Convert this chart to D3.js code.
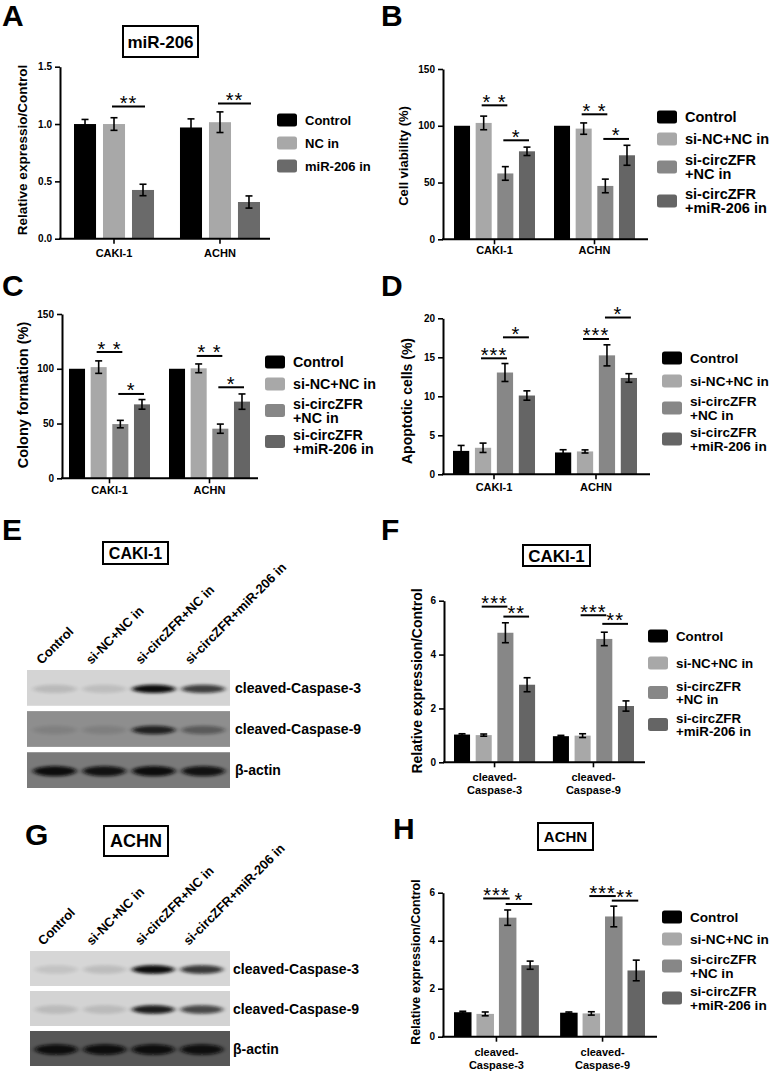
<!DOCTYPE html>
<html><head><meta charset="utf-8">
<script src="https://cdn.jsdelivr.net/npm/d3@7"></script>
<style>
body{margin:0;background:#fff}
svg{display:block;font-family:'Liberation Sans',Arial,Helvetica,sans-serif}
</style>
</head><body>
<svg id="fig" width="771" height="1072"></svg>
<script>
// ---------------- DATA ----------------
const cells = ["CAKI-1", "ACHN"];
const proteins = ["cleaved-\nCaspase-3", "cleaved-\nCaspase-9"];
const seriesA = ["Control", "NC in", "miR-206 in"];
const seriesB = ["Control", "si-NC+NC in", "si-circZFR\n+NC in", "si-circZFR\n+miR-206 in"];

const valuesA = [[1.00, 1.00, 0.425], [0.97, 1.016, 0.32]];
const errorsA = [[0.04, 0.055, 0.05], [0.075, 0.09, 0.053]];
const sigA = [[0, 1, 2, 1.152, "**"], [1, 1, 2, 1.18, "**"]];

const valuesB = [[100, 102.5, 58, 77.5], [100, 97.5, 47, 74]];
const errorsB = [[0, 6, 6, 3.7], [0, 5, 6, 8.8]];
const sigB = [[0, 1, 2, 118, "* *"], [0, 2, 3, 87.2, "*"], [1, 1, 2, 110.1, "* *"], [1, 2, 3, 88.4, "*"]];

const valuesC = [[100, 101.5, 49.5, 67.5], [100, 100.4, 45.3, 70]];
const errorsC = [[0, 5.7, 3.4, 4.4], [0, 4, 4.2, 7]];
const sigC = [[0, 1, 2, 115.3, "* *"], [0, 2, 3, 77, "*"], [1, 1, 2, 111.7, "* *"], [1, 2, 3, 83.1, "*"]];

const valuesD = [[3.0, 3.4, 13.05, 10.1], [2.8, 2.93, 15.25, 12.35]];
const errorsD = [[0.7, 0.6, 1.15, 0.6], [0.35, 0.2, 1.35, 0.55]];
const sigD = [[0, 1, 2, 14.87, "***"], [0, 2, 3, 17.56, "*"], [1, 1, 2, 17.35, "***"], [1, 2, 3, 20.1, "*"]];

const valuesF = [[1.03, 1.01, 4.81, 2.88], [0.97, 0.99, 4.58, 2.09]];
const errorsF = [[0.03, 0.04, 0.37, 0.26], [0.03, 0.07, 0.25, 0.19]];
const sigF = [[0, 1, 2, 5.78, "***"], [0, 2, 3, 5.41, "**"], [1, 1, 2, 5.46, "***"], [1, 2, 3, 5.14, "**"]];

const valuesH = [[1.02, 0.95, 4.96, 2.98], [1.00, 0.97, 5.01, 2.76]];
const errorsH = [[0.04, 0.08, 0.32, 0.17], [0.03, 0.07, 0.43, 0.43]];
const sigH = [[0, 1, 2, 5.76, "***"], [0, 2, 3, 5.53, "*"], [1, 1, 2, 5.86, "***"], [1, 2, 3, 5.67, "**"]];

const ticks15 = [0, 0.5, 1.0, 1.5];
const ticks150 = [0, 50, 100, 150];
const ticks20 = [0, 5, 10, 15, 20];
const ticks6 = [0, 2, 4, 6];

// western blot (band intensity 0..1 per lane)
const blotLanes = ["Control", "si-NC+NC in", "si-circZFR+NC in", "si-circZFR+miR-206 in"];
const blotProteins = ["cleaved-Caspase-3", "cleaved-Caspase-9", "β-actin"];
const bandsE = [[0.13, 0.11, 1.0, 0.75], [0.1, 0.11, 0.85, 0.4], [1.0, 0.95, 1.0, 0.95]];
const bandsG = [[0.09, 0.12, 1.0, 0.78], [0.12, 0.12, 0.92, 0.7], [1.0, 1.0, 1.0, 0.98]];

// ---------------- STYLE ----------------
const colors3 = ["#000000", "#a8a8a8", "#6a6a6a"];
const colors4 = ["#000000", "#a8a8a8", "#878787", "#656565"];
const stripBgE = ["#d4d4d4", "#8e8e8e", "#7a7a7a"];
const stripBgG = ["#d6d6d6", "#d3d3d3", "#575757"];

const svg = d3.select("#fig");
const defs = svg.append("defs");
defs.append("filter").attr("id", "blur").attr("x", "-30%").attr("y", "-100%").attr("width", "160%").attr("height", "300%")
  .append("feGaussianBlur").attr("stdDeviation", "2.6 1.5");

function panelLetter(t, x, y) {
  svg.append("text").attr("x", x).attr("y", y).attr("font-size", 30).attr("font-weight", "bold").text(t);
}
function titleBox(b) {
  svg.append("rect").attr("x", b.x).attr("y", b.y).attr("width", b.w).attr("height", b.h)
    .attr("fill", "#fff").attr("stroke", "#000").attr("stroke-width", 2);
  svg.append("text").attr("x", b.x + b.w / 2).attr("y", b.y + b.h / 2 + b.size * 0.36)
    .attr("text-anchor", "middle").attr("font-size", b.size).attr("font-weight", "bold").text(b.text);
}

function barPanel(c) {
  const g = svg.append("g");
  const y = d3.scaleLinear().domain(c.yDomain).range(c.yRange);
  const gx = d3.scaleBand().domain(c.groups).range(c.groupRange).paddingInner(c.groupPad).paddingOuter(0);
  const ix = d3.scaleBand().domain(d3.range(c.series.length)).range([0, gx.bandwidth()]).paddingInner(c.innerPad).paddingOuter(0);
  const cx = (gi, si) => gx(c.groups[gi]) + ix(si) + ix.bandwidth() / 2;

  // bars
  c.values.forEach((row, gi) => {
    row.forEach((v, si) => {
      g.append("rect").attr("x", gx(c.groups[gi]) + ix(si)).attr("y", y(v))
        .attr("width", ix.bandwidth()).attr("height", y(0) - y(v)).attr("fill", c.colors[si]);
    });
  });
  // error bars
  c.values.forEach((row, gi) => {
    row.forEach((v, si) => {
      const e = c.errors[gi][si];
      if (!e) return;
      const x = cx(gi, si);
      const eb = g.append("g").attr("stroke", "#000").attr("stroke-width", 1.6);
      eb.append("line").attr("x1", x).attr("x2", x).attr("y1", y(v - e)).attr("y2", y(v + e));
      [v - e, v + e].forEach(t => eb.append("line").attr("x1", x - 3.5).attr("x2", x + 3.5).attr("y1", y(t)).attr("y2", y(t)));
    });
  });
  // axes
  const ya = g.append("g").attr("transform", `translate(${c.xAxis[0]},0)`)
    .call(d3.axisLeft(y).tickValues(c.yTicks).tickSize(5).tickSizeOuter(0).tickPadding(3).tickFormat(d3.format(c.yFormat)));
  ya.select(".domain").attr("stroke-width", 2);
  ya.selectAll(".tick line").attr("stroke-width", 1.6);
  ya.selectAll(".tick text").attr("font-size", 10).attr("font-weight", "bold").attr("font-family", null).attr("fill", "#000");

  const xa = g.append("g").attr("transform", `translate(0,${y(0)})`)
    .call(d3.axisBottom(gx).tickSize(5).tickSizeOuter(0).tickPadding(3));
  xa.select(".domain").remove();
  xa.selectAll(".tick line").attr("stroke-width", 1.6);
  xa.selectAll(".tick text").remove();
  g.append("line").attr("x1", c.xAxis[0] - 1).attr("x2", c.xAxis[1]).attr("y1", y(0)).attr("y2", y(0))
    .attr("stroke", "#000").attr("stroke-width", 2);
  c.groups.forEach(name => {
    const lines = name.split("\n");
    const t = g.append("text").attr("text-anchor", "middle").attr("font-size", 11).attr("font-weight", "bold");
    lines.forEach((ln, i) => t.append("tspan").attr("x", gx(name) + gx.bandwidth() / 2).attr("y", c.xLabelY + i * 12.5).text(ln));
  });
  // y title
  g.append("text").attr("transform", `translate(${c.titleX},${c.titleY}) rotate(-90)`)
    .attr("text-anchor", "middle").attr("dy", "0.36em").attr("font-size", c.titleSize).attr("font-weight", "bold").text(c.title);

  // significance
  c.sig.forEach(([gi, a, b, lvl, lab]) => {
    const x1 = cx(gi, a) - 2, x2 = cx(gi, b) + 2, yy = y(lvl);
    g.append("line").attr("x1", x1).attr("x2", x2).attr("y1", yy).attr("y2", yy).attr("stroke", "#000").attr("stroke-width", 2);
    g.append("text").attr("x", (x1 + x2) / 2).attr("y", yy + 3.5).attr("text-anchor", "middle")
      .attr("font-size", 20).attr("letter-spacing", 1).text(lab);
  });

  // legend
  const L = c.legend;
  let yc = L.y;
  c.series.forEach((s, i) => {
    const lines = s.split("\n");
    const h = lines.length > 1 ? L.double : L.single;
    if (i > 0) {
      const hp = c.series[i - 1].split("\n").length > 1 ? L.double : L.single;
      yc += hp / 2 + h / 2;
    }
    g.append("rect").attr("x", L.x).attr("y", yc - 6.5).attr("width", 20).attr("height", 13).attr("rx", 2.5)
      .attr("fill", c.colors[i]);
    const t = g.append("text").attr("font-size", L.size).attr("font-weight", "bold");
    const lh = L.size * 0.98;
    lines.forEach((ln, k) => {
      t.append("tspan").attr("x", L.x + 28)
        .attr("y", yc + L.size * 0.36 + (k - (lines.length - 1) / 2) * lh).text(ln);
    });
  });
}

function blot(c) {
  const g = svg.append("g");
  const lx = d3.scaleBand().domain(d3.range(c.lanes.length)).range(c.laneRange).paddingInner(0).paddingOuter(0);
  const sy = d3.scaleBand().domain(d3.range(c.proteins.length)).range(c.stripRange).paddingInner(c.stripPad).paddingOuter(0);
  c.proteins.forEach((p, pi) => {
    g.append("rect").attr("x", c.stripX[0]).attr("y", sy(pi)).attr("width", c.stripX[1] - c.stripX[0])
      .attr("height", sy.bandwidth()).attr("fill", c.bg[pi]);
    c.bands[pi].forEach((v, li) => {
      g.append("ellipse").attr("cx", lx(li) + lx.bandwidth() / 2).attr("cy", sy(pi) + sy.bandwidth() / 2 + 1)
        .attr("rx", lx.bandwidth() * 0.44).attr("ry", pi === 2 ? 5.2 : 4.2)
        .attr("fill", "#0a0a0a").attr("opacity", v).attr("filter", "url(#blur)");
    });
    g.append("text").attr("x", c.labelX).attr("y", sy(pi) + sy.bandwidth() / 2 + 5)
      .attr("font-size", 14).attr("font-weight", "bold").text(p);
  });
  c.lanes.forEach((ln, li) => {
    g.append("text").attr("transform", `translate(${lx(li) + lx.bandwidth() / 2 - 13},${c.stripRange[0] - 5}) rotate(-45)`)
      .attr("font-size", 13).attr("font-weight", "bold").text(ln);
  });
}

// ---------------- PANELS ----------------
panelLetter("A", 2, 26);
titleBox({x: 123, y: 26, w: 75, h: 31, text: "miR-206", size: 17});
barPanel({groups: cells, series: seriesA, colors: colors3, values: valuesA, errors: errorsA, sig: sigA,
  yDomain: [0, 1.5], yTicks: ticks15, yFormat: ".1f", yRange: [238.7, 66.7], xAxis: [60, 270],
  groupRange: [74, 260], groupPad: 0.245, innerPad: 0.24, title: "Relative expressio/Control",
  titleX: 22, titleY: 150, titleSize: 13.5, xLabelY: 257,
  legend: {x: 277, y: 120, single: 23, double: 34, size: 13}});

panelLetter("B", 381, 26);
barPanel({groups: cells, series: seriesB, colors: colors4, values: valuesB, errors: errorsB, sig: sigB,
  yDomain: [0, 150], yTicks: ticks150, yFormat: "d", yRange: [239.3, 69], xAxis: [443, 648],
  groupRange: [454, 635], groupPad: 0.19, innerPad: 0.26, title: "Cell viability (%)",
  titleX: 403, titleY: 156, titleSize: 13, xLabelY: 254,
  legend: {x: 657, y: 117, single: 22, double: 34, size: 14.5}});

panelLetter("C", 2, 296);
barPanel({groups: cells, series: seriesB, colors: colors4, values: valuesC, errors: errorsC, sig: sigC,
  yDomain: [0, 150], yTicks: ticks150, yFormat: "d", yRange: [478.3, 314], xAxis: [62, 258],
  groupRange: [69, 250], groupPad: 0.19, innerPad: 0.26, title: "Colony formation (%)",
  titleX: 23, titleY: 395, titleSize: 14.5, xLabelY: 494,
  legend: {x: 265, y: 362, single: 22, double: 31, size: 14.3}});

panelLetter("D", 381, 296);
barPanel({groups: cells, series: seriesB, colors: colors4, values: valuesD, errors: errorsD, sig: sigD,
  yDomain: [0, 20], yTicks: ticks20, yFormat: "d", yRange: [474.3, 318.3], xAxis: [443, 650],
  groupRange: [453, 637], groupPad: 0.196, innerPad: 0.26, title: "Apoptotic cells (%)",
  titleX: 407, titleY: 401, titleSize: 14, xLabelY: 491,
  legend: {x: 662, y: 358, single: 23, double: 31, size: 13.6}});

panelLetter("E", 2, 540);
titleBox({x: 103, y: 542, w: 65, h: 22, text: "CAKI-1", size: 16});
blot({lanes: blotLanes, proteins: blotProteins, bands: bandsE, bg: stripBgE,
  laneRange: [30, 228], stripX: [27, 230], stripRange: [670, 788], stripPad: 0.13, labelX: 235});

panelLetter("F", 381, 540);
titleBox({x: 523, y: 545, w: 67, h: 21, text: "CAKI-1", size: 17});
barPanel({groups: proteins, series: seriesB, colors: colors4, values: valuesF, errors: errorsF, sig: sigF,
  yDomain: [0, 6], yTicks: ticks6, yFormat: "d", yRange: [762.3, 600.7], xAxis: [444, 645],
  groupRange: [454, 634], groupPad: 0.18, innerPad: 0.26, title: "Relative expression/Control",
  titleX: 417, titleY: 681, titleSize: 14, xLabelY: 781,
  legend: {x: 648, y: 636, single: 27, double: 32, size: 13.3}});

panelLetter("G", 25, 845);
titleBox({x: 104, y: 826, w: 64, h: 30, text: "ACHN", size: 18});
blot({lanes: blotLanes, proteins: blotProteins, bands: bandsG, bg: stripBgG,
  laneRange: [32, 226], stripX: [30, 230], stripRange: [951, 1066], stripPad: 0.125, labelX: 233});

panelLetter("H", 393, 839);
titleBox({x: 538, y: 823, w: 55, h: 27, text: "ACHN", size: 15});
barPanel({groups: proteins, series: seriesB, colors: colors4, values: valuesH, errors: errorsH, sig: sigH,
  yDomain: [0, 6], yTicks: ticks6, yFormat: "d", yRange: [1036.7, 892.7], xAxis: [443, 657],
  groupRange: [454, 645], groupPad: 0.2, innerPad: 0.22, title: "Relative expression/Control",
  titleX: 415, titleY: 962, titleSize: 12.5, xLabelY: 1056,
  legend: {x: 662, y: 917, single: 22, double: 32, size: 13.6}});
</script>
</body></html>
